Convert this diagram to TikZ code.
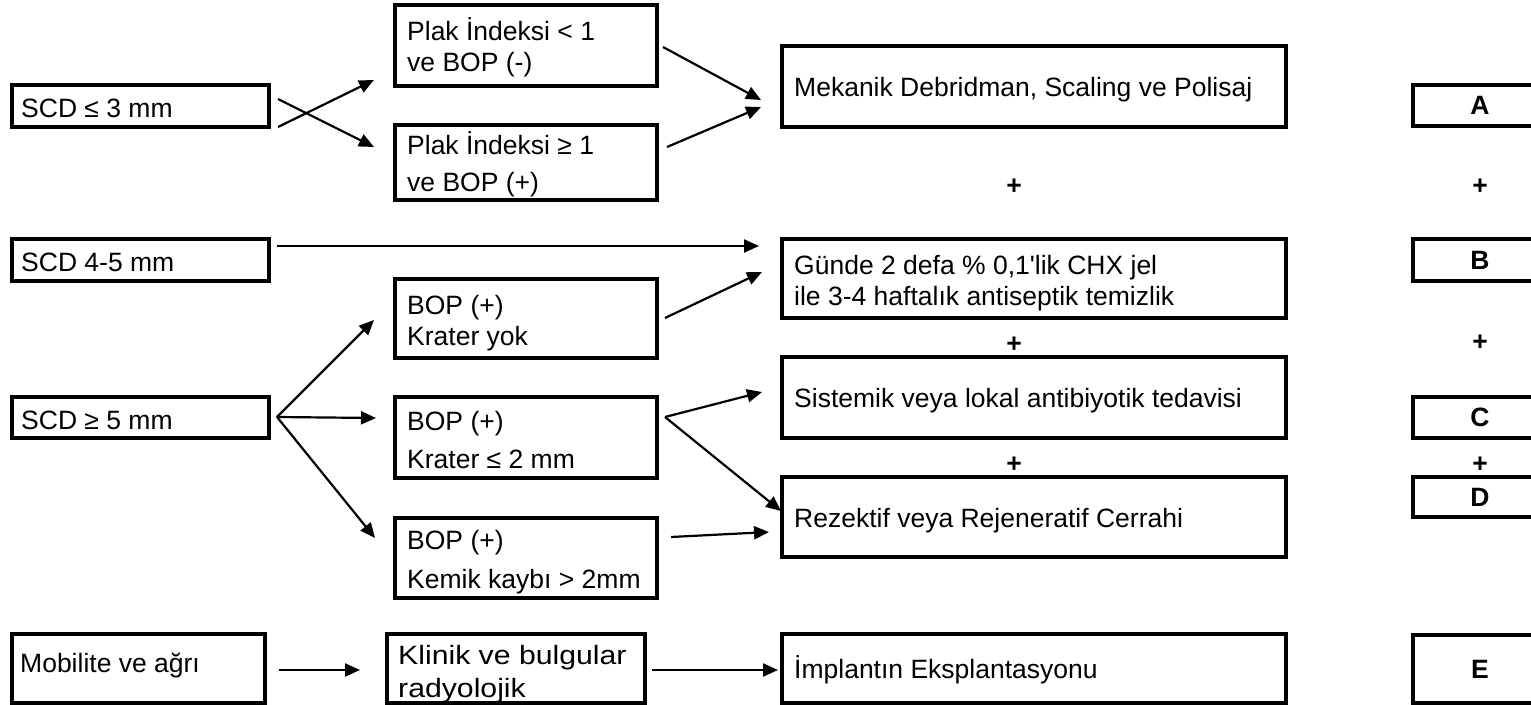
\documentclass[tikz,border=0pt]{standalone}
\usepackage{fontspec}
\setmainfont{Liberation Sans}
\usetikzlibrary{arrows.meta}
\begin{document}
\begin{tikzpicture}[x=1pt,y=-1pt,
  box/.style={draw=black,line width=4pt,rectangle,inner sep=0pt},
  txt/.style={anchor=base west,inner sep=0pt,font=\fontsize{26.5}{30}\selectfont},
  wide/.style={anchor=base west,inner sep=0pt,font=\fontsize{26.5}{30}\selectfont},
  letterbox/.style={draw=black,line width=4pt,rectangle,inner sep=0pt,font=\fontsize{26.5}{30}\selectfont\bfseries},
  plus/.style={inner sep=0pt,font=\fontsize{26.5}{30}\selectfont\bfseries},
  arr/.style={line width=2.2pt,-{Triangle[length=15pt,width=13pt]}}]
\useasboundingbox (0,0) rectangle (1531,704);
% column 1
\node[box,minimum width=257pt,minimum height=42pt] (s3) at (140.5,106) {};
\node[txt] (t-s3) at (21,117) {SCD ≤ 3 mm};
\node[box,minimum width=257pt,minimum height=42pt] (s45) at (140.5,260) {};
\node[txt] (t-s45) at (21,271) {SCD 4-5 mm};
\node[box,minimum width=257pt,minimum height=41pt] (s5) at (140.5,417.5) {};
\node[txt] (t-s5) at (21,429) {SCD ≥ 5 mm};
\node[box,minimum width=253pt,minimum height=69pt] (mob) at (138.5,668.5) {};
\node[txt] (t-mob) at (20,672) {Mobilite ve ağrı};
% column 2
\node[box,minimum width=262pt,minimum height=81pt] (p1) at (526,45.5) {};
\node[txt] (t-p1a) at (407,40) {Plak İndeksi < 1};
\node[txt] (t-p1b) at (407,71) {ve BOP (-)};
\node[box,minimum width=262pt,minimum height=75pt] (p2) at (526,162.5) {};
\node[txt] (t-p2a) at (407,154) {Plak İndeksi ≥ 1};
\node[txt] (t-p2b) at (407,191) {ve BOP (+)};
\node[box,minimum width=262pt,minimum height=79pt] (b1) at (526,318.5) {};
\node[txt] (t-b1a) at (407,314) {BOP (+)};
\node[txt] (t-b1b) at (407,345) {Krater yok};
\node[box,minimum width=262pt,minimum height=81pt] (b2) at (526,437.5) {};
\node[txt] (t-b2a) at (407,430) {BOP (+)};
\node[txt] (t-b2b) at (407,468) {Krater ≤ 2 mm};
\node[box,minimum width=262pt,minimum height=80pt] (b3) at (526,558) {};
\node[txt] (t-b3a) at (407,549) {BOP (+)};
\node[txt] (t-b3b) at (407,588) {Kemik kaybı > 2mm};
\node[box,minimum width=258pt,minimum height=69pt] (kl) at (516,668.5) {};
\node[wide] (t-kla) at (398,664) {\scalebox{1.14}[1]{Klinik ve bulgular}};
\node[wide] (t-klb) at (398,697) {\scalebox{1.14}[1]{radyolojik}};
% column 3
\node[box,minimum width=504pt,minimum height=81pt] (mek) at (1034,86.5) {};
\node[txt] (t-mek) at (794,96) {Mekanik Debridman, Scaling ve Polisaj};
\node[box,minimum width=504pt,minimum height=79pt] (gun) at (1034,278.5) {};
\node[txt] (t-guna) at (794,274) {Günde 2 defa \% 0,1\textquotesingle lik CHX jel};
\node[txt] (t-gunb) at (794,305) {ile 3-4 haftalık antiseptik temizlik};
\node[box,minimum width=504pt,minimum height=81pt] (sis) at (1034,397.5) {};
\node[txt] (t-sis) at (794,407) {Sistemik veya lokal antibiyotik tedavisi};
\node[box,minimum width=504pt,minimum height=80pt] (rez) at (1034,517) {};
\node[txt] (t-rez) at (794,527) {Rezektif veya Rejeneratif Cerrahi};
\node[box,minimum width=504pt,minimum height=69pt] (imp) at (1034,668.5) {};
\node[txt] (t-imp) at (794,678) {İmplantın Eksplantasyonu};
\node[plus] (pl1) at (1014,187) {+};
\node[plus] (pl2) at (1014,345) {+};
\node[plus] (pl3) at (1014,465) {+};
% column 4
\node[letterbox,minimum width=134pt,minimum height=41pt] (A) at (1480,105.5) {A};
\node[letterbox,minimum width=134pt,minimum height=42pt] (B) at (1480,260) {B};
\node[letterbox,minimum width=134pt,minimum height=41pt] (C) at (1480,417.5) {C};
\node[letterbox,minimum width=134pt,minimum height=40pt] (D) at (1480,497) {D};
\node[letterbox,minimum width=134pt,minimum height=68pt] (E) at (1480,669) {E};
\node[plus] (pr1) at (1480,187) {+};
\node[plus] (pr2) at (1480,343) {+};
\node[plus] (pr3) at (1480,465) {+};
% connector end points
\coordinate (s3a) at (278,127); \coordinate (p1in) at (374,80);
\coordinate (s3b) at (278,99);  \coordinate (p2in) at (374,147);
\coordinate (p1out) at (663,47); \coordinate (mekin1) at (761,100);
\coordinate (p2out) at (667,147); \coordinate (mekin2) at (761,107);
\coordinate (s45out) at (277,246); \coordinate (gunin1) at (759,246);
\coordinate (b1out) at (665,318); \coordinate (gunin2) at (762,272);
\coordinate (s5out) at (277,417);
\coordinate (b1in) at (374,320); \coordinate (b2in) at (376,418); \coordinate (b3in) at (375,538);
\coordinate (b2out) at (665,417); \coordinate (sisin) at (762,392); \coordinate (rezin1) at (781,511);
\coordinate (b3out) at (671,537); \coordinate (rezin2) at (769,532);
\coordinate (mobout) at (279,670); \coordinate (klin) at (360,670);
\coordinate (klout) at (652,670); \coordinate (impin) at (778,670);
% connectors
\draw[arr] (s3a) -- (p1in);
\draw[arr] (s3b) -- (p2in);
\draw[arr] (p1out) -- (mekin1);
\draw[arr] (p2out) -- (mekin2);
\draw[arr] (s45out) -- (gunin1);
\draw[arr] (b1out) -- (gunin2);
\draw[arr] (s5out) -- (b1in);
\draw[arr] (s5out) -- (b2in);
\draw[arr] (s5out) -- (b3in);
\draw[arr] (b2out) -- (sisin);
\draw[arr] (b2out) -- (rezin1);
\draw[arr] (b3out) -- (rezin2);
\draw[arr] (mobout) -- (klin);
\draw[arr] (klout) -- (impin);
\end{tikzpicture}
\end{document}
